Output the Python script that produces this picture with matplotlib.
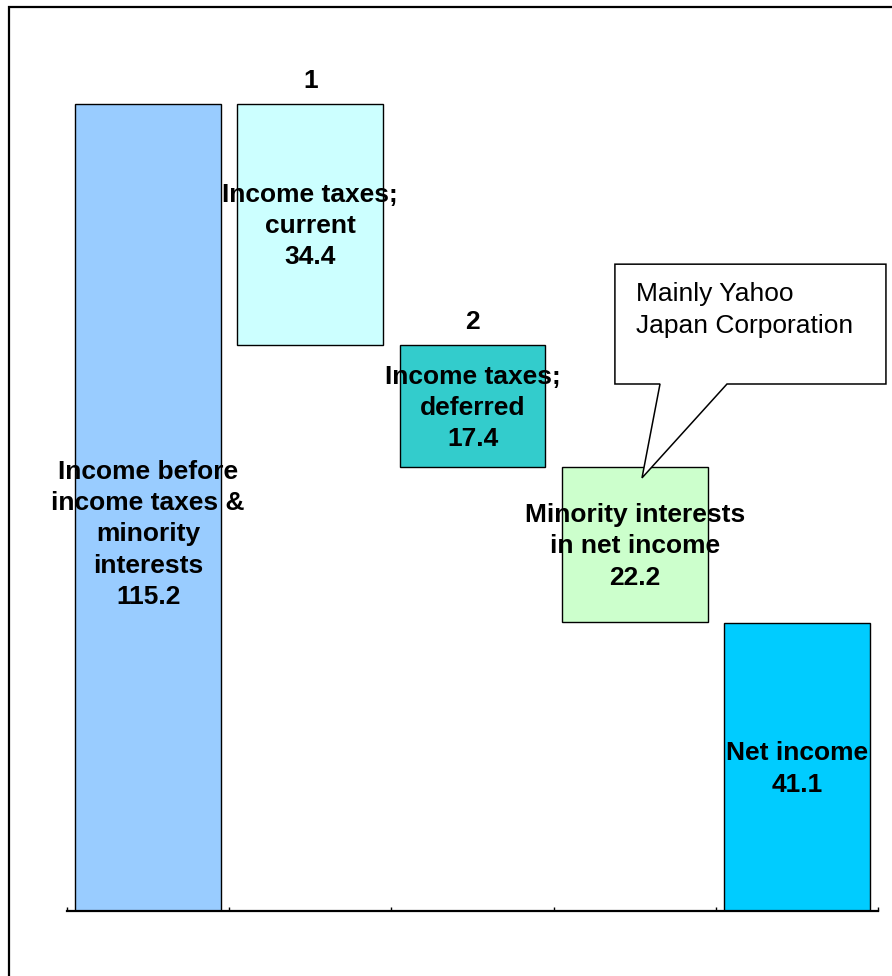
import matplotlib.pyplot as plt
import matplotlib.patches as mpatches
import numpy as np

plt.rcParams['font.family'] = ['Liberation Sans', 'DejaVu Sans']

# waterfall: income before taxes down to net income
labels = ['Income before\nincome taxes &\nminority\ninterests',
          'Income taxes;\ncurrent',
          'Income taxes;\ndeferred',
          'Minority interests\nin net income',
          'Net income']
values = [115.2, 34.4, 17.4, 22.2, 41.1]
kinds = ['total', 'minus', 'minus', 'minus', 'total']
steps = ['', '1', '2', '', '']
colors = ['#99CCFF', '#CCFFFF', '#33CCCC', '#CCFFCC', '#00CCFF']
note = 'Mainly Yahoo\nJapan Corporation'

# bottoms of the floating bars
bottoms = []
level = 0.0
for v, k in zip(values, kinds):
    if k == 'total':
        bottoms.append(0.0)
        level = v
    else:
        level = level - v
        bottoms.append(level)
bottoms = np.array(bottoms)
vals = np.array(values)
x = np.arange(len(values))

fig = plt.figure(figsize=(8.92, 9.76), dpi=100)
ax = fig.add_axes([67/892, 65/976, 811/892, 876/976])

ax.bar(x, vals, bottom=bottoms, width=0.9, color=colors,
       edgecolor='black', linewidth=1.0, zorder=2)

ax.set_xlim(-0.5, len(values) - 0.5)
ax.set_ylim(0, 125)

# text inside each bar
for i, (lab, v) in enumerate(zip(labels, values)):
    mid = bottoms[i] + v / 2
    dy = -27 if i == 0 else -2
    ax.annotate(f'{lab}\n{v}', (i, mid), xytext=(0, dy), textcoords='offset pixels',
                ha='center', va='center', fontsize=19, fontweight='bold',
                linespacing=1.38, zorder=4)

# step numbers above the tax bars
for i, s in enumerate(steps):
    if s:
        ax.annotate(s, (i, bottoms[i] + values[i]), xytext=(0, 23),
                    textcoords='offset pixels', ha='center', va='center',
                    fontsize=19, fontweight='bold')

# callout pointing into the minority interests bar
tip_x, tip_y = 3 + 0.045, bottoms[3] + values[3] - 1.6
callout = [(2.878, 92.3), (4.549, 92.3), (4.549, 75.2), (3.569, 75.2),
           (tip_x, tip_y), (3.156, 75.2), (2.878, 75.2)]
ax.add_patch(mpatches.Polygon(callout, closed=True, facecolor='white',
                              edgecolor='black', linewidth=1.1, zorder=5,
                              clip_on=False))
ax.text(3.008, 85.8, note, ha='left', va='center', fontsize=19,
        linespacing=1.4, zorder=6)

# category boundary ticks, no labels
ax.set_xticks(np.arange(-0.5, len(values), 1.0))
ax.set_xticklabels([])
ax.tick_params(axis='x', direction='in', length=3, width=1, color='black')
ax.set_yticks([])
for side in ['left', 'top', 'right']:
    ax.spines[side].set_visible(False)
ax.spines['bottom'].set_linewidth(1.6)

# outer frame (runs off the right and bottom edges)
fig.patches.append(mpatches.Rectangle((8.5/892, -0.05), 1.2, 1.05 - 7/976,
                                      transform=fig.transFigure, fill=False,
                                      edgecolor='black', linewidth=1.6))

fig.savefig('out.png', dpi=100)
